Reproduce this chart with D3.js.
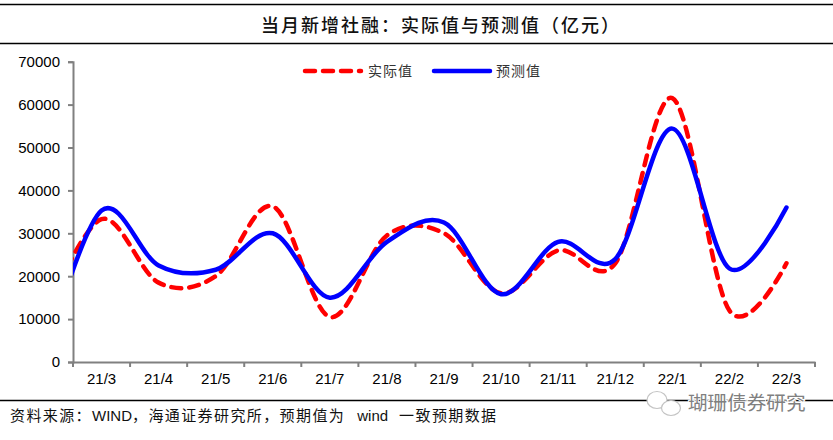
<!DOCTYPE html>
<html><head><meta charset="utf-8">
<script src="https://cdn.jsdelivr.net/npm/d3@7"></script>
<style>
html,body{margin:0;padding:0;background:#fff}
svg{display:block}
</style></head><body>
<svg id="c" width="833" height="440"></svg>
<script>
const categories=["21/3","21/4","21/5","21/6","21/7","21/8","21/9","21/10","21/11","21/12","22/1","22/2","22/3"];
const actual=[33300,18500,20000,36300,10500,29500,30000,16000,26000,23000,61500,12000,23000];
const forecast=[35300,22500,21500,30000,15000,28000,32500,15800,28000,24000,54400,21800,36000];
// month before the visible range: only its run-in shows, clipped at the axis
const priorMonth="21/2";
const actualPrior=10600;
const forecastPrior=900;
const yTicks=[0,10000,20000,30000,40000,50000,60000,70000];
const cjk='"Noto Sans CJK SC","Liberation Sans",sans-serif';
const latin='"Liberation Sans",Arial,sans-serif';

const svg=d3.select("#c");
const L=73,R=815,T=61.7,B=362;
const band=d3.scaleBand().domain(categories).range([L,R]);
const x=c=>c===priorMonth?L-band.bandwidth()/2:band(c)+band.bandwidth()/2;
const y=d3.scaleLinear().domain([0,70000]).range([B,T]);

// rules
[4.5,43.5,400.5].forEach(v=>svg.append("line").attr("x1",0).attr("x2",833).attr("y1",v).attr("y2",v).attr("stroke","#000").attr("stroke-width",1.3));

// title
svg.append("text").attr("x",261).attr("y",32)
 .attr("font-family",cjk).attr("font-size",18).attr("font-weight",500).attr("letter-spacing",2).attr("fill","#111")
 .text("当月新增社融：实际值与预测值（亿元）");

// axes
const gy=svg.append("g").attr("transform",`translate(${L},0)`)
 .call(d3.axisLeft(y).tickValues(yTicks).tickFormat(d3.format("d")).tickSize(5).tickPadding(8));
const gx=svg.append("g").attr("transform",`translate(0,${B})`)
 .call(d3.axisBottom(band).tickSize(0).tickPadding(11));
const edges=categories.map(c=>band(c)).concat([R]);
gx.selectAll("line.edge").data(edges).enter().append("line").attr("class","edge")
 .attr("x1",d=>d).attr("x2",d=>d).attr("y1",0).attr("y2",5);
[gy,gx].forEach(g=>{
 g.selectAll("path").attr("stroke","#808080").attr("stroke-width",2);
 g.selectAll("line").attr("stroke","#808080").attr("stroke-width",2);
 g.selectAll("text").attr("font-family",latin).attr("font-size",15).attr("fill","#000");
});
gy.selectAll("text").attr("dy","0.32em");

// series
svg.append("clipPath").attr("id","plot").append("rect").attr("x",L).attr("y",0).attr("width",833-L).attr("height",B);
const line=d3.line().x(d=>x(d.c)).y(d=>y(d.v)).curve(d3.curveCatmullRom.alpha(0));
const rows=(prior,vals)=>[{c:priorMonth,v:prior}].concat(vals.map((v,i)=>({c:categories[i],v})));
const plot=svg.append("g").attr("clip-path","url(#plot)");
plot.append("path").datum(rows(actualPrior,actual)).attr("d",line).attr("fill","none")
 .attr("stroke","#ff0000").attr("stroke-width",4.5).attr("stroke-linecap","round").attr("stroke-dasharray","10 8");
plot.append("path").datum(rows(forecastPrior,forecast)).attr("d",line).attr("fill","none")
 .attr("stroke","#0000ff").attr("stroke-width",4.5).attr("stroke-linecap","round");

// legend
const legY=71;
svg.append("line").attr("x1",305).attr("x2",361).attr("y1",legY).attr("y2",legY)
 .attr("stroke","#ff0000").attr("stroke-width",4.5).attr("stroke-linecap","round").attr("stroke-dasharray","10 8");
svg.append("line").attr("x1",434).attr("x2",490).attr("y1",legY).attr("y2",legY)
 .attr("stroke","#0000ff").attr("stroke-width",4.5).attr("stroke-linecap","round");
[["实际值",368],["预测值",496]].forEach(([t,px])=>svg.append("text").attr("x",px).attr("y",legY+5)
 .attr("font-family",cjk).attr("font-size",14).attr("letter-spacing",1).attr("fill","#333").text(t));

// source
const src=svg.append("text").attr("x",10).attr("y",421).attr("font-family",latin).attr("font-size",15).attr("fill","#111");
[["资料来源：",1],["WIND",0],["，海通证券研究所，预期值为",1],["wind",0,12],["一致预期数据",1,11]].forEach(([t,cn,dx])=>{
 const s=src.append("tspan").text(t);
 if(cn) s.attr("font-family",cjk).attr("letter-spacing",1.4);
 if(dx) s.attr("dx",dx);
});

// watermark
const wm=svg.append("g").attr("fill","#fff").attr("stroke","#c4c4c4").attr("stroke-width",1.2);
wm.append("ellipse").attr("cx",657).attr("cy",400).attr("rx",10).attr("ry",8.5);
wm.append("ellipse").attr("cx",671).attr("cy",408).attr("rx",9.5).attr("ry",7.5);
svg.append("text").attr("x",688).attr("y",410).attr("font-family",cjk).attr("font-size",19.6).attr("fill","#808080")
 .attr("stroke","#fff").attr("stroke-width",2).attr("paint-order","stroke")
 .text("瑚珊债券研究");
</script></body></html>
